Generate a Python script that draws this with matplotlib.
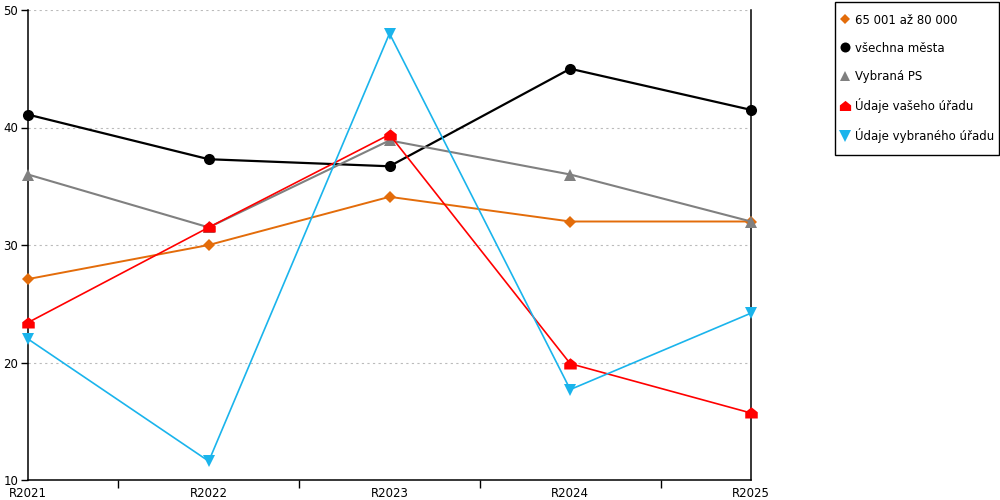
import matplotlib
matplotlib.use("Agg")
import matplotlib.pyplot as plt
from matplotlib.path import Path
from matplotlib.patches import Rectangle

years = ["R2021", "R2022", "R2023", "R2024", "R2025"]

kategorie = [27.1, 30.0, 34.1, 32.0, 32.0]      # 65 001 až 80 000
vsechna = [41.1, 37.3, 36.7, 45.0, 41.5]        # všechna města
vybrana_ps = [36.0, 31.5, 38.9, 36.0, 32.0]     # Vybraná PS
vas_urad = [23.4, 31.5, 39.4, 19.9, 15.7]       # Údaje vašeho úřadu
vybrany_urad = [22.0, 11.6, 48.0, 17.7, 24.2]   # Údaje vybraného úřadu

# house-shaped marker for the red series
house = Path([(-1, -0.8), (1, -0.8), (1, 0.2), (0, 1), (-1, 0.2), (-1, -0.8)],
             [Path.MOVETO, Path.LINETO, Path.LINETO, Path.LINETO, Path.LINETO, Path.CLOSEPOLY])

plt.rcParams["font.family"] = "DejaVu Sans"
plt.rcParams["font.size"] = 8.5

fig = plt.figure(figsize=(10, 5), dpi=100)
ax = fig.add_axes([0.028, 0.04, 0.723, 0.94])

x = list(range(len(years)))
series = [
    (kategorie, "65 001 až 80 000", "#E36C0A", "D", 6, 1.4),
    (vsechna, "všechna města", "#000000", "o", 8, 1.6),
    (vybrana_ps, "Vybraná PS", "#808080", "^", 8, 1.5),
    (vas_urad, "Údaje vašeho úřadu", "#FF0000", house, 9, 1.2),
    (vybrany_urad, "Údaje vybraného úřadu", "#1AB4EC", "v", 9, 1.2),
]
handles = []
for vals, name, col, mk, ms, lw in series:
    ax.plot(x, vals, color=col, lw=lw, marker=mk, markersize=ms,
            markeredgewidth=0, clip_on=False, zorder=3)
    h, = ax.plot([], [], ls="none", color=col, marker=mk, markersize=ms * 0.9,
                 markeredgewidth=0, label=name)
    handles.append(h)

ax.set_xlim(0, 4)
ax.set_ylim(10, 50)
ax.set_yticks([10, 20, 30, 40, 50])
ax.set_xticks(x)
ax.set_xticklabels(years)
ax.set_xticks([0, 0.5, 1.5, 2.5, 3.5, 4], minor=True)
ax.tick_params(axis="x", which="major", length=0, pad=5)
ax.tick_params(axis="x", which="minor", length=6, width=1)
ax.tick_params(axis="y", length=5, width=1, pad=2)

ax.grid(axis="y", color="#bbbbbb", linestyle=(0, (2, 3)), lw=0.8)
ax.set_axisbelow(True)
ax.spines["top"].set_visible(False)
for s in ["left", "right", "bottom"]:
    ax.spines[s].set_linewidth(1.1)

# legend box drawn separately, entries without frame
fig.patches.append(Rectangle((0.835, 0.69), 0.1635, 0.307, transform=fig.transFigure,
                             fill=False, edgecolor="black", lw=1.0))
fig.legend(handles=handles, loc="upper left", bbox_to_anchor=(0.840, 0.973),
           frameon=False, handlelength=0.8, handletextpad=0.45, labelspacing=1.28,
           borderpad=0, borderaxespad=0, handleheight=0.7)

fig.savefig("out.png", dpi=100)
